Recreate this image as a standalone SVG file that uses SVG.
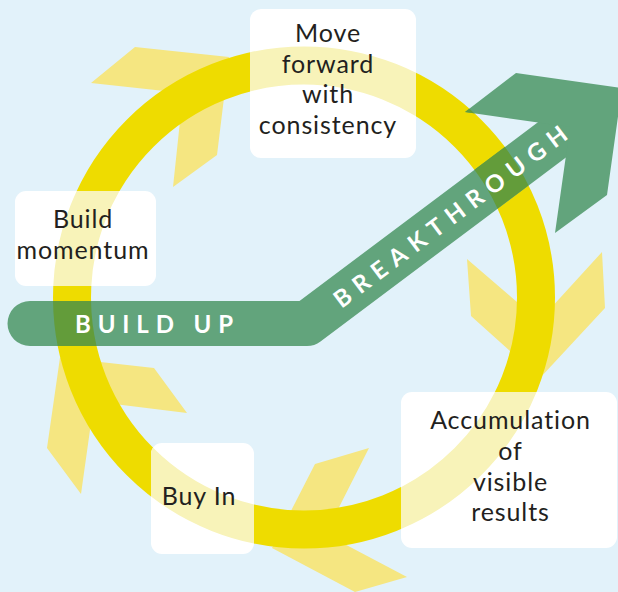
<svg xmlns="http://www.w3.org/2000/svg" width="618" height="592" viewBox="0 0 618 592">
<style>
.chev{fill:#f5e681}
.ring{fill:none;stroke:#eedc00;stroke-width:38}
.box{fill:#ffffff}
.pale{fill:none;stroke:#f8f3b9;stroke-width:38}
.lbl{font-family:Lato,"Noto Sans","DejaVu Sans",sans-serif;font-size:25px;letter-spacing:0.9px;fill:#231f20;text-anchor:middle}
.band{font-family:Lato,"Noto Sans","DejaVu Sans",sans-serif;font-size:24px;font-weight:bold;fill:#ffffff}
.green{fill:#62a47c}
</style>
<defs>
<clipPath id="gclip">
<path d="M30,301 L299.5,301 L566.5,100.75 L593.5,136.75 L320.5,341.5 A22.5,22.5 0 0 1 307,346 L30,346 A22.5,22.5 0 0 1 30,301 Z"/>
<polygon points="516,73 622,88 607,195 555,233 570,127 465,112"/>
</clipPath>
<clipPath id="c1"><rect x="250" y="9" width="166" height="149" rx="11"/></clipPath>
<clipPath id="c2"><rect x="15" y="191" width="141" height="95" rx="11"/></clipPath>
<clipPath id="c3"><rect x="151" y="443" width="103" height="111" rx="11"/></clipPath>
<clipPath id="c4"><rect x="401" y="392" width="216" height="156" rx="11"/></clipPath>
</defs>
<rect x="0" y="0" width="618" height="592" fill="#e2f2fa"/>
<g id="connectors">
<polygon class="chev" points="229,57 135,47 91,83 183,93 173,187 217,155"/>
<polygon class="chev" points="540,378 471,316 467,259 539,321 602,252 605,308"/>
<polygon class="chev" points="272,548 315,464 369,448 325.5,534 407,577 355,592"/>
<polygon class="chev" points="60,357.5 154,368 187,413 94,401.5 81,494 47,448"/>
<circle class="ring" cx="304" cy="297.5" r="232"/>
</g>
<g id="arrow">
<path class="green" d="M30,301 L299.5,301 L566.5,100.75 L593.5,136.75 L320.5,341.5 A22.5,22.5 0 0 1 307,346 L30,346 A22.5,22.5 0 0 1 30,301 Z"/>
<polygon class="green" points="516,73 622,88 607,195 555,233 570,127 465,112"/>
<circle cx="304" cy="297.5" r="232" fill="none" stroke="#639c3a" stroke-width="38" clip-path="url(#gclip)"/>
<text class="band" x="75" y="333" textLength="158" lengthAdjust="spacing">BUILD UP</text>
<text class="band" text-anchor="middle" transform="translate(455.4,223.5) rotate(-36.87)" textLength="285" lengthAdjust="spacing">BREAKTHROUGH</text>
</g>
<g id="node-move">
<rect class="box" x="250" y="9" width="166" height="149" rx="11"/>
<circle class="pale" cx="304" cy="297.5" r="232" clip-path="url(#c1)"/>
<text class="lbl"><tspan x="328" y="42">Move</tspan><tspan x="328" y="72.5">forward</tspan><tspan x="328" y="103">with</tspan><tspan x="328" y="133.5">consistency</tspan></text>
</g>
<g id="node-momentum">
<rect class="box" x="15" y="191" width="141" height="95" rx="11"/>
<circle class="pale" cx="304" cy="297.5" r="232" clip-path="url(#c2)"/>
<text class="lbl"><tspan x="83" y="228">Build</tspan><tspan x="83" y="259">momentum</tspan></text>
</g>
<g id="node-buyin">
<rect class="box" x="151" y="443" width="103" height="111" rx="11"/>
<circle class="pale" cx="304" cy="297.5" r="232" clip-path="url(#c3)"/>
<text class="lbl" x="199" y="505">Buy In</text>
</g>
<g id="node-results">
<rect class="box" x="401" y="392" width="216" height="156" rx="11"/>
<circle class="pale" cx="304" cy="297.5" r="232" clip-path="url(#c4)"/>
<text class="lbl"><tspan x="510.5" y="429">Accumulation</tspan><tspan x="510.5" y="460">of</tspan><tspan x="510.5" y="490.5">visible</tspan><tspan x="510.5" y="521">results</tspan></text>
</g>
</svg>
